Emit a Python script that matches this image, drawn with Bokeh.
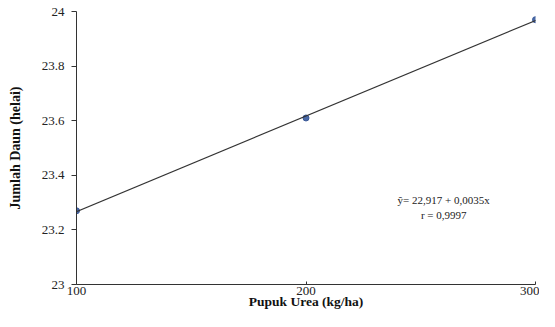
from bokeh.plotting import figure
from bokeh.models import Range1d, FixedTicker, Label, Slope
from bokeh.embed import file_html
from bokeh.resources import INLINE

# data
urea = [100, 200, 300]
daun = [23.27, 23.61, 23.97]
intercept = 22.917
slope = 0.0035
eq_text = "ŷ= 22,917 + 0,0035x"
r_text = "r = 0,9997"
x_ticks = [100, 200, 300]
y_ticks = [23, 23.2, 23.4, 23.6, 23.8, 24]
y_labels = {23: "23", 23.2: "23.2", 23.4: "23.4", 23.6: "23.6", 23.8: "23.8", 24: "24"}

p = figure(width=539, height=311, output_backend="svg", toolbar_location=None,
           x_range=Range1d(100, 300), y_range=Range1d(23, 24))
p.min_border_left = 76
p.min_border_right = 4
p.min_border_top = 11
p.min_border_bottom = 0
p.outline_line_color = None
p.grid.visible = False

serif = "Liberation Serif"
for ax in (p.xaxis[0], p.yaxis[0]):
    ax.axis_line_color = "#333333"
    ax.major_tick_line_color = "#333333"
    ax.minor_tick_line_color = None
    ax.major_label_text_font = serif
    ax.major_label_text_font_size = "13px"
    ax.major_label_text_color = "#222222"
    ax.axis_label_text_font = serif
    ax.axis_label_text_font_style = "bold"
    ax.axis_label_text_color = "#111111"

p.xaxis.ticker = FixedTicker(ticks=x_ticks)
p.xaxis.major_tick_in = 3
p.xaxis.major_tick_out = 0
p.xaxis.major_label_standoff = 2
p.xaxis.axis_label = "Pupuk Urea (kg/ha)"
p.xaxis.axis_label_text_font_size = "13.5px"
p.xaxis.axis_label_standoff = -4

p.yaxis.ticker = FixedTicker(ticks=y_ticks)
p.yaxis.major_label_overrides = y_labels
p.yaxis.major_tick_in = 0
p.yaxis.major_tick_out = 5
p.yaxis.major_label_standoff = 7
p.yaxis.axis_label = "Jumlah Daun (helai)"
p.yaxis.axis_label_text_font_size = "14px"
p.yaxis.axis_label_standoff = 16

p.add_layout(Slope(gradient=slope, y_intercept=intercept, line_color="#333333", line_width=1.1))
p.scatter(urea, daun, size=6, color="#4a6aa8", line_color="#3b5a98")

p.add_layout(Label(x=260, y=23.309, text=eq_text, text_font=serif, text_font_size="11px",
                   text_align="center", text_baseline="middle", text_color="#222222"))
p.add_layout(Label(x=260, y=23.256, text=r_text, text_font=serif, text_font_size="11px",
                   text_align="center", text_baseline="middle", text_color="#222222"))

open("out.html", "w").write(file_html(p, INLINE))
